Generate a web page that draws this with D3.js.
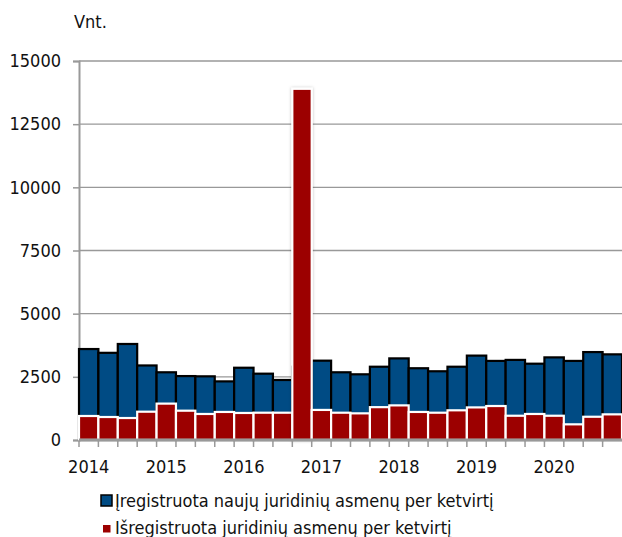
<!DOCTYPE html>
<html>
<head>
<meta charset="utf-8">
<script src="https://cdn.jsdelivr.net/npm/d3@7"></script>
<style>
  body { margin: 0; background: #fff; }
  svg text { font-family: "DejaVu Sans Condensed", "DejaVu Sans", sans-serif; fill: #111; }
</style>
</head>
<body>
<svg width="622" height="537"></svg>
<script>
var quarters = d3.range(28).map(function(i){ return (2014 + Math.floor(i/4)) + "K" + (i%4 + 1); });
var registered = [3600, 3450, 3800, 2950, 2680, 2530, 2520, 2320, 2860, 2625, 2375, 2900,
                  3140, 2680, 2600, 2900, 3230, 2840, 2720, 2900, 3340, 3130, 3170, 3020,
                  3270, 3130, 3480, 3390];
var deregistered = [950, 910, 870, 1120, 1440, 1160, 1030, 1110, 1070, 1080, 1080, 13900,
                    1190, 1080, 1055, 1300, 1370, 1110, 1080, 1175, 1290, 1345, 960, 1030,
                    960, 620, 920, 1015];
var yTicks = [0, 2500, 5000, 7500, 10000, 12500, 15000];
var yearLabels = ["2014", "2015", "2016", "2017", "2018", "2019", "2020"];
var legendLabels = ["Įregistruota naujų juridinių asmenų per ketvirtį",
                    "Išregistruota juridinių asmenų per ketvirtį"];

var svg = d3.select("svg");
var mLeft = 79, mRight = 622, mTop = 61, mBottom = 440;
var fontSize = 18;

var x = d3.scaleBand().domain(quarters).range([mLeft, mRight]).padding(0);
var y = d3.scaleLinear().domain([0, 15000]).range([mBottom, mTop]);

var defs = svg.append("defs");
var f = defs.append("filter").attr("id", "shadow").attr("x", "-30%").attr("y", "-5%").attr("width", "160%").attr("height", "110%");
f.append("feDropShadow").attr("dx", 0).attr("dy", 0).attr("stdDeviation", 1.5).attr("flood-color", "#000").attr("flood-opacity", 0.25);

// gridlines
svg.append("g").selectAll("line")
   .data(yTicks.slice(1))
   .enter().append("line")
   .attr("x1", mLeft).attr("x2", mRight)
   .attr("y1", function(d){ return y(d); }).attr("y2", function(d){ return y(d); })
   .attr("stroke", "#999").attr("stroke-width", 1.3);

// y axis
var yAxis = svg.append("g")
   .attr("transform", "translate(" + mLeft + ",0)")
   .call(d3.axisLeft(y).tickValues(yTicks).tickSize(6).tickPadding(12).tickFormat(d3.format("d")));
yAxis.select(".domain").attr("stroke", "#999").attr("stroke-width", 2);
yAxis.selectAll(".tick line").attr("stroke", "#999").attr("stroke-width", 1.5);
yAxis.selectAll("text").attr("font-size", fontSize).attr("fill", "#111")
     .style("font-family", '"DejaVu Sans Condensed", sans-serif');

// blue bars
svg.append("g").selectAll("rect")
   .data(registered)
   .enter().append("rect")
   .attr("x", function(d, i){ return x(quarters[i]); })
   .attr("y", function(d){ return y(d); })
   .attr("width", x.bandwidth())
   .attr("height", function(d){ return y(0) - y(d); })
   .attr("fill", "#004b84")
   .attr("stroke", "#000").attr("stroke-width", 2.2);

// red bars
svg.append("g").selectAll("rect")
   .data(deregistered)
   .enter().append("rect")
   .attr("x", function(d, i){ return x(quarters[i]); })
   .attr("y", function(d){ return y(d); })
   .attr("width", x.bandwidth())
   .attr("height", function(d){ return y(0) - y(d); })
   .attr("fill", "#9c0000")
   .attr("stroke", "#fff").attr("stroke-width", 2.2)
   .attr("filter", function(d){ return d > 5000 ? "url(#shadow)" : null; });

// x axis
var xAxis = svg.append("g")
   .attr("transform", "translate(0," + mBottom + ")");
xAxis.append("line").attr("x1", mLeft).attr("x2", mRight).attr("stroke", "#999").attr("stroke-width", 3);
xAxis.selectAll(".qt")
   .data(quarters)
   .enter().append("line")
   .attr("x1", function(d){ return x(d); }).attr("x2", function(d){ return x(d); })
   .attr("y1", 0).attr("y2", 7)
   .attr("stroke", "#999").attr("stroke-width", 1.5);
xAxis.selectAll("text")
   .data(yearLabels)
   .enter().append("text")
   .attr("x", function(d){ return x(d + "K1") + x.bandwidth() / 2; })
   .attr("y", 33)
   .attr("text-anchor", "middle")
   .attr("font-size", fontSize)
   .text(function(d){ return d; });

// unit label
svg.append("text").attr("x", 74).attr("y", 28).attr("font-size", fontSize).text("Vnt.");

// legend
var legend = svg.append("g");
legend.append("rect").attr("x", 101).attr("y", 495).attr("width", 11).attr("height", 11)
      .attr("fill", "#004b84").attr("stroke", "#000").attr("stroke-width", 1.5);
legend.append("rect").attr("x", 103).attr("y", 525).attr("width", 7.5).attr("height", 7.5)
      .attr("fill", "#9c0000");
legend.selectAll("text")
      .data(legendLabels)
      .enter().append("text")
      .attr("x", 115)
      .attr("y", function(d, i){ return 507 + i * 27; })
      .attr("font-size", fontSize)
      .text(function(d){ return d; });
</script>
</body>
</html>
